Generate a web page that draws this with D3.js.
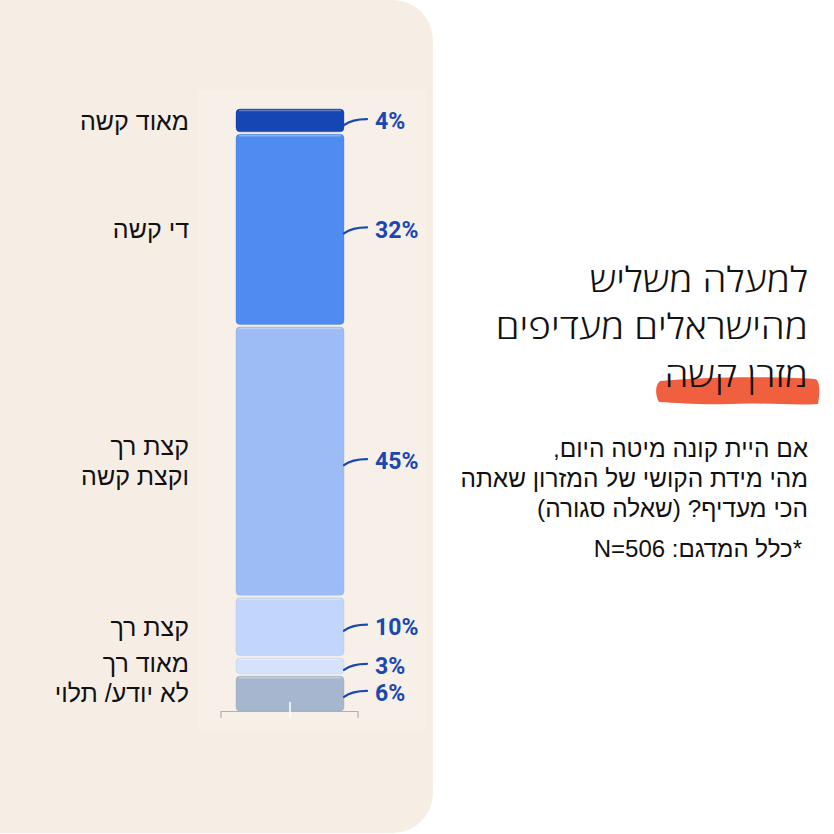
<!DOCTYPE html>
<html lang="he">
<head>
    <meta charset="UTF-8">
    <title>mattress hardness</title>
    <script type="text/javascript" src="https://d3js.org/d3.v7.min.js"></script>
    <style>
        body { margin: 0; background: #ffffff; }
        text { font-family: "Liberation Sans", "DejaVu Sans", sans-serif; }
    </style>
</head>
<body>
<svg class="chart"></svg>

<script type="text/javascript">

    const width = 834;
    const height = 834;

    // data, top to bottom
    const categories = ["מאוד קשה", "די קשה", "קצת רך|וקצת קשה", "קצת רך", "מאוד רך", "לא יודע/ תלוי"];
    const values = [4, 32, 45, 10, 3, 6];
    const colors = ["#1646b4", "#4f8bf1", "#9dbcf6", "#c2d5fa", "#d5e2fb", "#a7b6cf"];

    const titleLines = ["למעלה משליש", "מהישראלים מעדיפים", "מזרן קשה"];
    const subLines = ["אם היית קונה מיטה היום,", "מהי מידת הקושי של המזרון שאתה", "הכי מעדיף? (שאלה סגורה)"];
    const note = "*כלל המדגם: N=506";

    let svg = d3.select(".chart")
        .attr("width", width)
        .attr("height", height);

    // beige panel
    svg.append("rect")
        .attr("x", -50).attr("y", 0)
        .attr("width", 483).attr("height", 833)
        .attr("rx", 40)
        .style("fill", "#f6eee5");

    svg.append("rect")
        .attr("x", 198).attr("y", 90)
        .attr("width", 228).attr("height", 642)
        .style("fill", "#f7f0e8");

    // stacked bar
    let stack = [];
    let acc = 0;
    values.forEach((v, i) => {
        stack.push({cat: categories[i], value: v, color: colors[i], y0: acc, y1: acc + v});
        acc += v;
    });

    let scaleY = d3.scaleLinear()
        .domain([0, 100])
        .range([109, 711]);

    let barX = 236, barW = 108, gap = 2.5;

    let g = svg.append("g");

    g.selectAll("rect.seg").data(stack).enter().append("rect")
        .attr("class", "seg")
        .attr("x", barX)
        .attr("y", d => scaleY(d.y0) + (d.y0 > 0 ? gap / 2 : 0))
        .attr("width", barW)
        .attr("height", d => scaleY(d.y1) - scaleY(d.y0) - (d.y0 > 0 ? gap / 2 : 0) - (d.y1 < 100 ? gap / 2 : 0))
        .attr("rx", 4)
        .style("fill", d => d.color)
        .style("stroke", d => d3.color(d.color).darker(0.4))
        .style("stroke-opacity", 0.35)
        .style("stroke-width", 1);

    // light top edge
    g.selectAll("line.hl").data(stack).enter().append("line")
        .attr("x1", barX + 3).attr("x2", barX + barW - 3)
        .attr("y1", d => scaleY(d.y0) + (d.y0 > 0 ? gap / 2 : 0) + 1.5)
        .attr("y2", d => scaleY(d.y0) + (d.y0 > 0 ? gap / 2 : 0) + 1.5)
        .style("stroke", "#ffffff")
        .style("stroke-opacity", 0.3)
        .style("stroke-width", 1.5);

    // bottom bracket
    let base = scaleY(100);
    svg.append("path")
        .attr("d", `M221,${base + 7}V${base + 0.5}H358V${base + 7}`)
        .style("fill", "none")
        .style("stroke", "#b5afa9")
        .style("stroke-width", 1.2);
    svg.append("line")
        .attr("x1", 290).attr("x2", 290)
        .attr("y1", base - 9).attr("y2", base + 7)
        .style("stroke", "#ffffff")
        .style("stroke-width", 1.5);

    // leader lines + values
    let mid = d => (scaleY(d.y0) + scaleY(d.y1)) / 2;

    g.selectAll("path.lead").data(stack).enter().append("path")
        .attr("d", d => {
            let y = mid(d);
            return `M344,${y + 4} Q352,${y - 2} 367,${y - 2}`;
        })
        .style("fill", "none")
        .style("stroke", "#1a47b2")
        .style("stroke-width", 2.2)
        .style("stroke-linecap", "round");

    g.selectAll("text.val").data(stack).enter().append("text")
        .attr("x", 375)
        .attr("y", d => mid(d))
        .attr("dy", "0.36em")
        .style("font-family", "'Liberation Sans Narrow', 'Roboto', sans-serif")
        .style("font-weight", "bold")
        .style("font-size", "23px")
        .style("fill", "#1a47b2")
        .text(d => d.value + "%");

    // category label positions: segment middle, pushed apart when too close
    let catSize = 25, lineGap = 30;
    let labelY = stack.map(d => mid(d));
    let halfH = stack.map(d => (d.cat.split("|").length - 1) * lineGap / 2 + 15);
    for (let i = stack.length - 2; i >= 0; i--) {
        let minY = labelY[i + 1] - halfH[i + 1] - halfH[i];
        if (labelY[i] > minY) labelY[i] = minY;
    }

    g.selectAll("text.cat").data(stack).enter().append("text")
        .attr("x", 189)
        .attr("y", (d, i) => labelY[i])
        .attr("direction", "rtl")
        .attr("text-anchor", "start")
        .style("font-size", catSize + "px")
        .style("fill", "#111")
        .each(function (d) {
            let lines = d.cat.split("|");
            let t = d3.select(this);
            lines.forEach((l, i) => {
                t.append("tspan")
                    .attr("x", 189)
                    .attr("dy", i === 0 ? (0.36 * catSize - (lines.length - 1) * lineGap / 2) : lineGap)
                    .text(l);
            });
        });

    // highlight brush stroke
    svg.append("path")
        .attr("d", "M660,381 C700,377 770,376 815,379 C820,380 820,392 818,404 C790,406 760,402 730,404 C700,405 680,403 659,402 C655,395 655,385 660,381 Z")
        .style("fill", "#f0603f");

    // title, widened a little to match the original lettering
    let titleG = svg.append("g")
        .attr("transform", "translate(808,0) scale(1.12,1)");

    titleG.selectAll("text.title").data(titleLines).enter().append("text")
        .attr("x", 0)
        .attr("y", (d, i) => 292 + i * 47.5)
        .attr("direction", "rtl")
        .attr("text-anchor", "start")
        .style("font-family", "'Open Sans', sans-serif")
        .style("font-size", "34.5px")
        .style("font-weight", 300)
        .style("fill", "#111")
        .text(d => d);

    svg.selectAll("text.sub").data(subLines).enter().append("text")
        .attr("x", 808)
        .attr("y", (d, i) => 457 + i * 30)
        .attr("direction", "rtl")
        .attr("text-anchor", "start")
        .style("font-size", "24.4px")
        .style("fill", "#111")
        .text(d => d);

    svg.append("text")
        .attr("x", 802)
        .attr("y", 557)
        .attr("direction", "rtl")
        .attr("text-anchor", "start")
        .style("font-size", "24px")
        .style("fill", "#111")
        .text(note);

</script>

</body>
</html>
